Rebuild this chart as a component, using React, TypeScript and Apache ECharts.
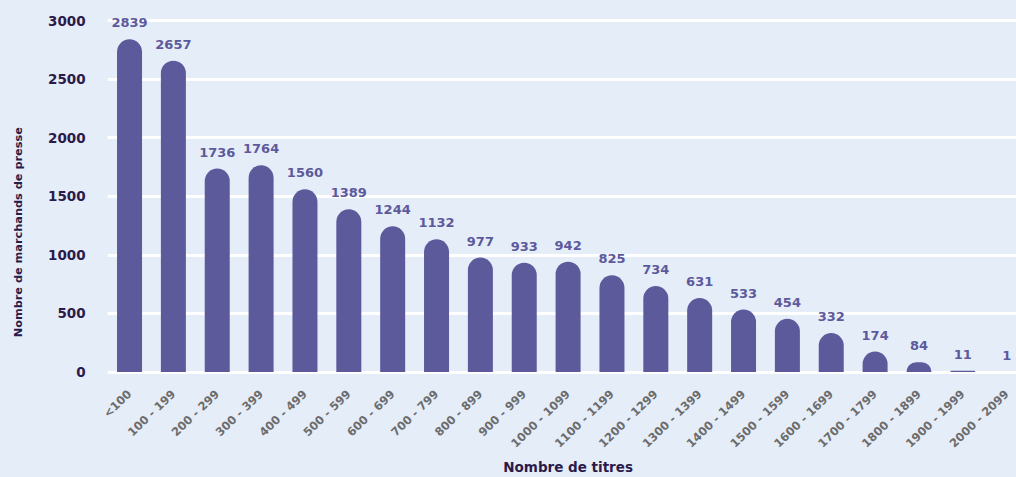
import React, { useEffect, useRef } from "react";
import * as echarts from "echarts";

const categories = [
  "<100", "100 - 199", "200 - 299", "300 - 399", "400 - 499", "500 - 599",
  "600 - 699", "700 - 799", "800 - 899", "900 - 999", "1000 - 1099",
  "1100 - 1199", "1200 - 1299", "1300 - 1399", "1400 - 1499", "1500 - 1599",
  "1600 - 1699", "1700 - 1799", "1800 - 1899", "1900 - 1999", "2000 - 2099",
];
const values = [
  2839, 2657, 1736, 1764, 1560, 1389, 1244, 1132, 977, 933, 942, 825, 734,
  631, 533, 454, 332, 174, 84, 11, 1,
];
const yTicks = { min: 0, max: 3000, interval: 500 };

const FONT = "DejaVu Sans";

export default function App() {
  const ref = useRef<HTMLDivElement>(null);
  useEffect(() => {
    document.body.style.margin = "0";
    const chart = echarts.init(ref.current!, null, { renderer: "svg" });
    chart.setOption({
      animation: false,
      backgroundColor: "#e5edf8",
      textStyle: { fontFamily: FONT },
      grid: {
        left: 107.6,
        right: -12.6,
        top: 20.5,
        bottom: 105,
        containLabel: false,
        outerBoundsMode: "none",
      },
      xAxis: {
        type: "category",
        data: categories,
        name: "Nombre de titres",
        nameLocation: "middle",
        nameGap: 88,
        nameTextStyle: { fontFamily: FONT, fontWeight: "bold", fontSize: 13.5, color: "#2b1a4a" },
        axisLine: { show: false },
        axisTick: { show: false },
        axisLabel: {
          rotate: 44,
          margin: 20,
          interval: 0,
          fontFamily: FONT,
          fontWeight: "bold",
          fontSize: 11.5,
          color: "#6c6c6c",
        },
      },
      yAxis: {
        type: "value",
        min: yTicks.min,
        max: yTicks.max,
        interval: yTicks.interval,
        name: "Nombre de marchands de presse",
        nameLocation: "middle",
        nameGap: 84,
        nameTextStyle: {
          fontFamily: FONT,
          fontWeight: "bold",
          fontSize: 11.3,
          color: "#2b1a4a",
          padding: [0, 72, 0, 0],
        },
        axisLine: { show: false },
        axisTick: { show: false },
        axisLabel: {
          margin: 22,
          fontFamily: FONT,
          fontWeight: "bold",
          fontSize: 13.5,
          color: "#2b1a4a",
          formatter: (v: number) => String(v),
        },
        splitLine: { lineStyle: { color: "#ffffff", width: 3 } },
      },
      series: [
        {
          type: "bar",
          data: values,
          barWidth: 25,
          itemStyle: { color: "#5d5a9c", borderRadius: [12.5, 12.5, 0, 0] },
          label: {
            show: true,
            position: "top",
            distance: 10,
            fontFamily: FONT,
            fontWeight: "bold",
            fontSize: 13,
            color: "#5d5a9c",
          },
        },
      ],
    });
    return () => chart.dispose();
  }, []);
  return <div ref={ref} style={{ width: 1016, height: 477 }} />;
}
